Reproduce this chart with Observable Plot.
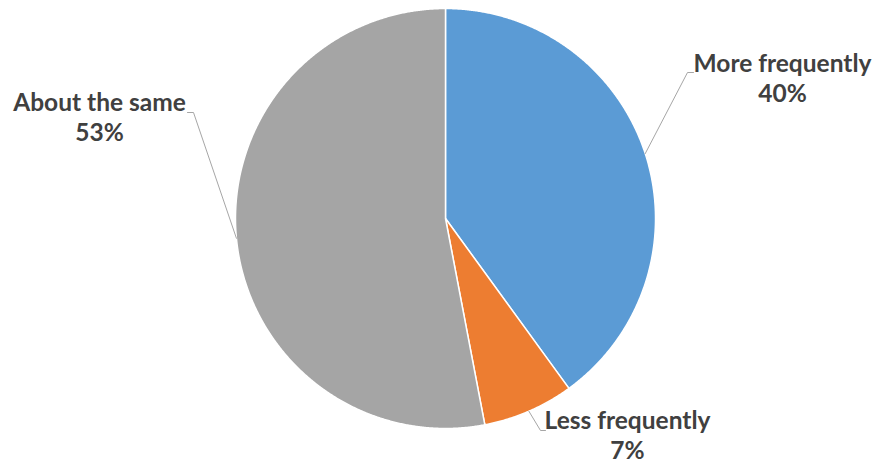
<!DOCTYPE html>
<html><head><meta charset="utf-8">
<script src="https://cdn.jsdelivr.net/npm/d3@7"></script>
<script src="https://cdn.jsdelivr.net/npm/@observablehq/plot@0.6"></script>
<style>body{margin:0;background:#fff}</style>
</head><body><div id="chart"></div>
<script>
// Data
const categories = ["More frequently", "Less frequently", "About the same"];
const values = [40, 7, 53];
const percentLabels = ["40%", "7%", "53%"];
const colors = ["#5B9BD5", "#ED7D31", "#A5A5A5"];

// Layout (pixels)
const W = 876, H = 468, cx = 445, cy = 218, R = 210;
const fs = 24.5, lineGap = 30;
const labelLayout = [
  {tx: 782, ty: 73, ex: 687, ey: 72, hx: 693},
  {tx: 627, ty: 430, ex: 540, ey: 430, hx: 545},
  {tx: 99, ty: 112, ex: 193, ey: 112, hx: 187}
];
const ux = p => (p - cx) / R;
const uy = p => (cy - p) / R;

const arcs = d3.pie().sort(null).value(d => d)(values);
const slices = arcs.map((a, i) => {
  const pts = [{x: 0, y: 0}];
  const n = Math.max(4, Math.ceil((a.endAngle - a.startAngle) / 0.005));
  for (let k = 0; k <= n; k++) {
    const t = a.startAngle + (a.endAngle - a.startAngle) * k / n;
    pts.push({x: Math.sin(t), y: Math.cos(t)});
  }
  return pts;
});
const leaders = arcs.map((a, i) => {
  const m = (a.startAngle + a.endAngle) / 2;
  const L = labelLayout[i];
  return [
    {x: Math.sin(m), y: Math.cos(m)},
    {x: ux(L.ex), y: uy(L.ey)},
    {x: ux(L.hx), y: uy(L.ey)}
  ];
});
const labelData = categories.map((c, i) => ({
  text: c + "\n" + percentLabels[i],
  x: ux(labelLayout[i].tx),
  y: uy(labelLayout[i].ty - 0.71 * fs - 5)
}));

const chart = Plot.plot({
  width: W, height: H, margin: 0,
  x: {domain: [-cx / R, (W - cx) / R], axis: null},
  y: {domain: [-(H - cy) / R, cy / R], axis: null},
  style: {background: "#fff"},
  marks: [
    ...slices.map((s, i) => Plot.line(s, {x: "x", y: "y", fill: colors[i], stroke: "#fff", strokeWidth: 1.5, curve: "linear-closed", strokeLinejoin: "round"})),
    ...leaders.map(l => Plot.line(l, {x: "x", y: "y", stroke: "#A6A6A6", strokeWidth: 1})),
    Plot.text(labelData, {x: "x", y: "y", text: "text", textAnchor: "middle", lineAnchor: "top", lineHeight: lineGap / fs,
      fill: "#404040", fontSize: fs, fontWeight: "bold", fontFamily: "Lato"})
  ]
});
document.getElementById("chart").append(chart);
</script>
</body></html>
